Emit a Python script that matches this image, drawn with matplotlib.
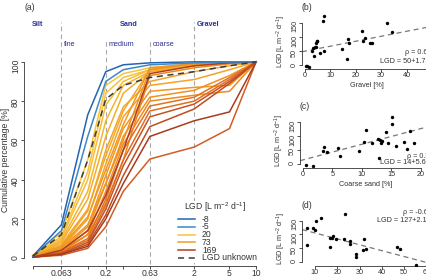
import matplotlib
matplotlib.use("Agg")
import matplotlib.pyplot as plt
from matplotlib.colors import LinearSegmentedColormap, Normalize
from matplotlib.lines import Line2D
from matplotlib.patches import Rectangle

plt.rcParams["font.family"] = ["Liberation Sans", "DejaVu Sans"]
plt.rcParams["mathtext.default"] = "regular"

W, H = 427, 278
FS = 6.2        # main panel text
FS_S = 5.2      # scatter panels and class names
NAVY = "#2e3192"
GRID = "#a8a8a8"
INK = "#333333"

# sieve sizes [mm] and the labels R kept on the axis
sieve = [0.03, 0.063, 0.125, 0.2, 0.315, 0.63, 2, 5, 10]
sieve_labels = ["", "0.063", "", "0.2", "", "0.63", "2", "5", "10"]

# LGD [L m-2 d-1] of each sample and its cumulative grain size curve [%]
lgd = [20, 24, 32, 44, 52, 56, 78, 84, 169, 96,
       62, 64, 80, 85, 94, 118, 122, 150, 157, 174, 140]
curves = [
    [1.5, 13, 50, 88, 94, 97, 99, 100, 100],
    [1.5, 11, 44, 84, 92, 96, 98.5, 99.5, 100],
    [1, 10, 40, 78, 90, 96, 98.5, 99.5, 100],
    [1, 9, 34, 70, 88, 95, 98, 99.5, 100],
    [1, 8, 30, 62, 84, 95, 98, 99.5, 100],
    [1, 7, 25, 52, 75, 96, 99, 100, 100],
    [1, 6, 21, 45, 68, 97, 99, 100, 100],
    [0.5, 5, 17, 38, 60, 96, 99, 100, 100],
    [0.5, 4, 14, 32, 55, 94, 98, 99.5, 100],
    [0.5, 4, 12, 28, 50, 93, 97, 99, 100],
    [1, 6, 24, 55, 77, 90, 95, 98, 100],
    [1, 5, 20, 48, 72, 88, 91, 96, 100],
    [0.5, 4, 16, 42, 66, 85, 87, 88, 100],
    [0.5, 4, 14, 38, 62, 82, 85.5, 93, 100],
    [0.5, 3, 12, 34, 58, 80, 83, 85, 100],
    [0.5, 3, 10, 30, 55, 77.5, 82, 92, 100],
    [0.5, 3, 9, 27, 50, 75, 80, 91, 100],
    [0.5, 2.5, 8, 25, 47, 72, 78.5, 90, 100],
    [0.5, 2, 7, 22, 42, 67, 76, 89, 100],
    [0.5, 2, 6, 20, 38, 62, 70, 74.5, 100],
    [0.5, 1.5, 5, 16, 34, 50.5, 56.6, 66, 100],
]
neg_lgd = [-8, -5]
neg_curves = [
    [1, 17, 73, 95, 98.5, 99.5, 100, 100, 100],
    [1, 14, 62, 90, 96, 98.5, 99.5, 100, 100],
]
neg_colors = ["#2464b0", "#3d87c8"]
unknown_curve = [1, 12, 50, 81, 88, 92, 95, 98, 100]

legend_values = [-8, -5, 20, 73, 169]

# class boundaries [mm]
bounds = [0.063, 0.2, 0.63, 2]

# scatter panels: grain fraction [%] against LGD
gravel = [0.4, 0.9, 1.6, 2.9, 3.3, 3.8, 4.2, 4.3, 4.6, 4.8, 3.7, 5.9, 7.6,
          7.2, 7.6, 14.4, 16.4, 16.8, 17.3, 22.3, 22.7, 23.6, 25.6, 26.5,
          32.4, 34.1]
lgd_gravel = [-1, -4, -6, 52, 62, 64, 66, 80, 84, 85, 32, 44, 52, 157, 174,
              56, 24, 94, 78, 122, 84, 96, 78, 78, 150, 118]
coarse = [0.6, 1.7, 3.4, 3.6, 4.1, 6.0, 6.3, 9.5, 10.3, 10.7, 11.7, 12.8,
          13.1, 13.3, 13.4, 12.9, 14.1, 14.4, 15.1, 15.1, 15.8, 17.1, 17.6,
          18.2, 18.8]
lgd_coarse = [-4, -9, 47, 59, 41, 55, 28, 47, 79, 120, 73, 88, 87, 75, 81,
              20, 114, 73, 144, 168, 64, 79, 52, 117, 73]
third = [6.3, 6.3, 9.3, 10.0, 10.7, 12.5, 16.7, 17.5, 16.7, 18.2, 19.4,
         23.4, 23.1, 25.7, 25.7, 28.4, 28.4, 31.6, 32.1, 32.8, 46.9, 48.1,
         55.5]
lgd_third = [125, 60, 122, 116, 150, 159, 87, 87, 54, 94, 84, 175, 84, 77,
             65, 27, 19, 44, 84, 48, 56, 48, -10]
fit_intercept = [50, 14, 127]
fit_slope = [1.75, 5.6, -2.15]
fit_rho = ["\u03c1 = 0.62", "\u03c1 = 0.55", "\u03c1 = -0.66"]
fit_text = ["LGD = 50+1.75x", "LGD = 14+5.6x", "LGD = 127+2.1x"]


def px_axes(fig, left, top, right, bottom):
    """Add axes from a pixel box measured from the top-left corner."""
    return fig.add_axes([left / W, 1 - bottom / H,
                         (right - left) / W, (bottom - top) / H])


def r_style(ax, size):
    """Open R-like axes: only left and bottom, ticks outwards."""
    for side in ["top", "right"]:
        ax.spines[side].set_visible(False)
    for side in ["left", "bottom"]:
        ax.spines[side].set_linewidth(0.6)
        ax.spines[side].set_color(INK)
    ax.tick_params(direction="out", length=2.0, width=0.6, pad=0.8,
                   labelsize=size, colors=INK)
    ax.tick_params(axis="x", pad=0.2)
    ax.patch.set_alpha(0)


def ftext(x, y, s, **kw):
    """Text at a pixel position of the figure."""
    kw.setdefault("fontsize", FS)
    kw.setdefault("va", "center")
    kw.setdefault("color", INK)
    fig.text(x / W, 1 - y / H, s, **kw)


fig = plt.figure(figsize=(W / 100, H / 100), dpi=100)

cmap = LinearSegmentedColormap.from_list(
    "lgd", ["#f8d24a", "#f5b42e", "#f0901f", "#dc6523", "#a83a1f"])
norm = Normalize(0, 175)

# (a) grain size curves
ax = px_axes(fig, 24, 54, 265, 266)
r_style(ax, FS)
ax.set_xscale("log")
ax.set_xlim(0.0238, 12.6)
ax.set_ylim(-4, 104)
ax.spines["left"].set_bounds(0, 100)
ax.spines["bottom"].set_bounds(sieve[0], sieve[-1])

for b in bounds:
    top = 120.5 if b in (0.063, 2) else 111.5
    ax.plot([b, b], [-3, top], color=GRID, lw=0.8, ls=(0, (4, 3)),
            clip_on=False, zorder=1)

order = sorted(range(len(lgd)), key=lambda i: lgd[i])
for i in order:
    ax.plot(sieve, curves[i], color=cmap(norm(lgd[i])), lw=1.1, zorder=2)
for c, col in zip(neg_curves, neg_colors):
    ax.plot(sieve, c, color=col, lw=1.1, zorder=3)
ax.plot(sieve, unknown_curve, color="#3a3a3a", lw=1.1, ls=(0, (4, 3)),
        zorder=3)

ax.set_xticks(sieve)
ax.set_xticklabels(sieve_labels)
ax.minorticks_off()
ax.set_yticks([0, 20, 40, 60, 80, 100])
for lab in ax.get_yticklabels():
    lab.set_rotation(90)
ax.set_ylabel("Cumulative percentage [%]", fontsize=FS, labelpad=1,
              color=INK)

ftext(25, 7, "(a)")
ftext(37, 25, "Silt", ha="center", color=NAVY, fontweight="bold",
      fontsize=FS_S)
ftext(129, 25, "Sand", ha="center", color=NAVY, fontweight="bold",
      fontsize=FS_S)
ftext(197, 24, "Gravel", ha="left", color=NAVY, fontweight="bold",
      fontsize=FS_S)
ftext(64, 44, "fine", ha="left", color=NAVY, fontsize=FS_S)
ftext(109, 44, "medium", ha="left", color=NAVY, fontsize=FS_S)
ftext(153, 44, "coarse", ha="left", color=NAVY, fontsize=FS_S)

# legend, drawn R-style on a white box
fig.patches.append(Rectangle((174 / W, 1 - 263 / H), 88 / W, 62 / H,
                             transform=fig.transFigure, facecolor="white",
                             edgecolor="none", zorder=4))
ftext(215, 207, r"LGD [L m$^{-2}$ d$^{-1}$]", ha="center", zorder=5)
leg_colors = neg_colors + [cmap(norm(v)) for v in legend_values[2:]]
leg_items = [(str(v), c, "-") for v, c in zip(legend_values, leg_colors)]
leg_items.append(("LGD unknown", "#3a3a3a", (0, (4, 3))))
for k, (lab, col, ls) in enumerate(leg_items):
    y = 219 + k * 7.8
    fig.add_artist(Line2D([178 / W, 195 / W], [1 - y / H, 1 - y / H],
                          color=col, lw=1.1, ls=ls, zorder=5))
    ftext(202, y, lab, ha="left", zorder=5)

# (b)-(d) scatter panels
panels = [
    ((302, 14, 432, 69), (-1.2, 50), (-13, 181), gravel, lgd_gravel,
     [0, 10, 20, 30, 40, 50], "Gravel [%]", "(b)", (405, 53), (380, 62)),
    ((300, 113, 432, 168), (-0.5, 21.9), (-15, 182), coarse, lgd_coarse,
     [0, 5, 10, 15, 20], "Coarse sand [%]", "(c)", (407, 156), (380, 163)),
    ((302, 212, 432, 266), (4.2, 62.5), (-15, 182), third, lgd_third,
     [10, 20, 30, 40, 50, 60], "", "(d)", (403, 213), (377, 221)),
]
for k, (box, xl, yl, xs, ys, xt, xlab, tag, p_rho, p_fit) in enumerate(panels):
    sx = px_axes(fig, *box)
    r_style(sx, FS_S)
    sx.set_xlim(*xl)
    sx.set_ylim(*yl)
    sx.spines["left"].set_bounds(0, 150)
    sx.spines["bottom"].set_bounds(xt[0], xt[-1])
    sx.scatter(xs, ys, s=6, color="black", linewidths=0, zorder=3)
    sx.axline((0, fit_intercept[k]), slope=fit_slope[k], color="#777777",
              lw=0.9, ls=(0, (4, 3)), zorder=2)
    sx.set_xticks(xt)
    sx.set_yticks([0, 50, 100, 150])
    for lab in sx.get_yticklabels():
        lab.set_rotation(90)
    sx.set_ylabel(r"LGD [L m$^{-2}$ d$^{-1}$]", fontsize=FS_S, labelpad=2,
                  color=INK)
    if xlab:
        sx.set_xlabel(xlab, fontsize=FS_S, labelpad=2, color=INK)
    ftext(box[0], box[1] - 7, tag)
    ftext(p_rho[0], p_rho[1], fit_rho[k], ha="left", fontsize=FS_S)
    ftext(p_fit[0], p_fit[1], fit_text[k], ha="left", fontsize=FS_S)

fig.savefig("out.png", dpi=100)
